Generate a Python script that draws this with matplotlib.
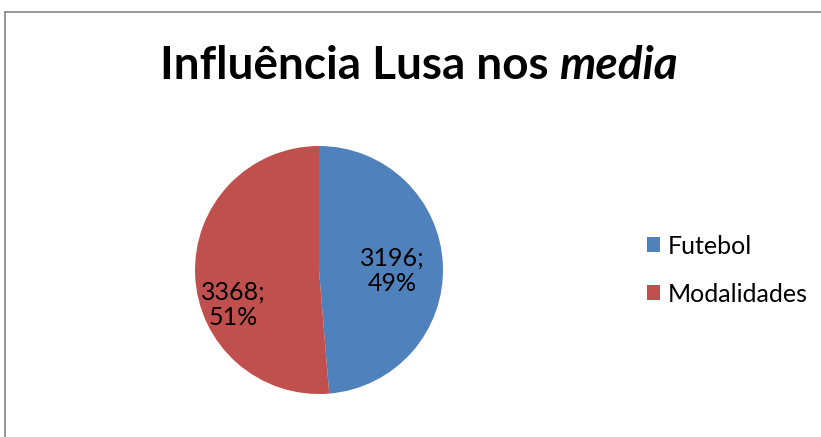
import matplotlib
matplotlib.use("Agg")
import matplotlib.pyplot as plt
from matplotlib.patches import Patch
from matplotlib.lines import Line2D

# Dados do gráfico
categorias = ["Futebol", "Modalidades"]
valores = [3196, 3368]
cores = ["#4F81BD", "#C0504D"]

plt.rcParams['font.family'] = ['Lato', 'DejaVu Sans']

W, H = 821, 437
fig = plt.figure(figsize=(W / 100, H / 100), dpi=100)

# moldura (só esquerda e topo visíveis)
fig.add_artist(Line2D([5 / W, 5 / W], [0, 1 - 12 / H], transform=fig.transFigure, color="#868686", lw=1.2))
fig.add_artist(Line2D([5 / W, 1], [1 - 12 / H, 1 - 12 / H], transform=fig.transFigure, color="#868686", lw=1.2))

# eixo do pie: centro (319, 270), raio 124 px
cx, cy, r = 319, 270, 124
ax = fig.add_axes([(cx - r) / W, (H - cy - r) / H, 2 * r / W, 2 * r / H])
wedges, _ = ax.pie(valores, colors=cores, startangle=90, counterclock=False, radius=1.0)
ax.set_xlim(-1, 1)
ax.set_ylim(-1, 1)
ax.set_aspect("equal")
ax.axis("off")

total = sum(valores)
rotulos = [f"{v};\n{round(100 * v / total)}%" for v in valores]
pos_rotulos = [((392 - cx) / r, (cy - 271) / r), ((233 - cx) / r, (cy - 305) / r)]
for txt, (x, y) in zip(rotulos, pos_rotulos):
    ax.text(x, y, txt, ha="center", va="center", fontsize=18, linespacing=1.15, color="black")

# título: parte normal em negrito + "media" em negrito itálico
t1 = fig.text(0, 1 - 66 / H, "Influência Lusa nos ", fontsize=33, fontweight="bold", va="center", ha="left")
t2 = fig.text(0, 1 - 66 / H, "media", fontsize=33, fontweight="bold", style="italic", va="center", ha="left")
rend = fig.canvas.get_renderer()
w1 = t1.get_window_extent(rend).width
w2 = t2.get_window_extent(rend).width
x0 = 419 - (w1 + w2) / 2
t1.set_x(x0 / W)
t2.set_x((x0 + w1) / W)

# legenda
handles = [Patch(facecolor=c, edgecolor="none") for c in cores]
fig.legend(handles, categorias, loc="center left", bbox_to_anchor=(634 / W, 1 - 270 / H),
           frameon=False, fontsize=18, handlelength=0.55, handleheight=0.55,
           handletextpad=0.3, labelspacing=1.0, borderpad=0)

plt.savefig("out.png", dpi=100)
